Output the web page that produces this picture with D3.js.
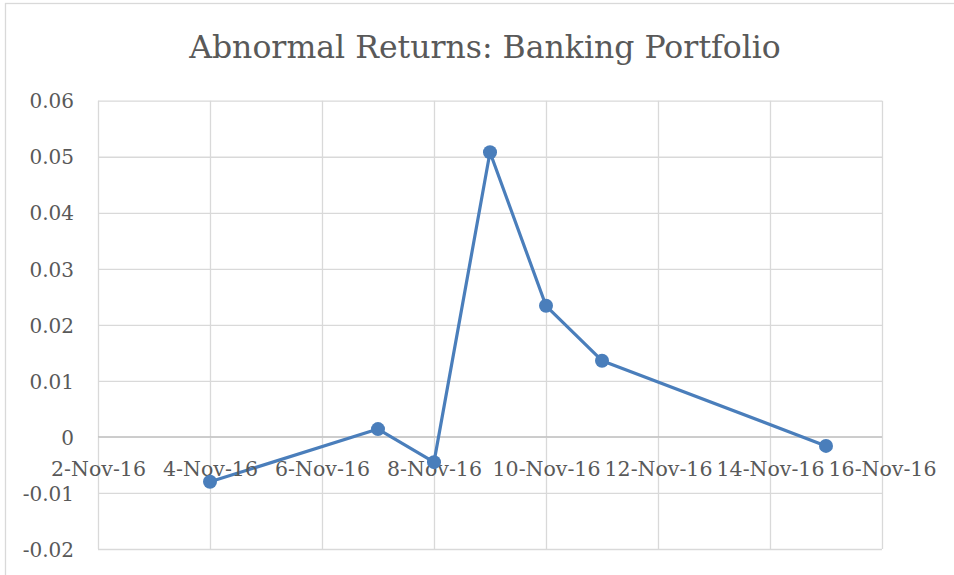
<!DOCTYPE html>
<html>
<head>
<meta charset="utf-8">
<script src="https://cdn.jsdelivr.net/npm/d3@7"></script>
<style>
  body { margin: 0; background: #ffffff; }
</style>
</head>
<body>
<div id="chart"></div>
<script>
'use strict';

// data
const dates = ['2016-11-04', '2016-11-07', '2016-11-08', '2016-11-09', '2016-11-10', '2016-11-11', '2016-11-15'];
const returns = [-0.0080, 0.0014, -0.0045, 0.0508, 0.0234, 0.0136, -0.0016];
const yTicks = [-0.02, -0.01, 0, 0.01, 0.02, 0.03, 0.04, 0.05, 0.06];
const xDomain = ['2016-11-02', '2016-11-16'];
const chartTitle = 'Abnormal Returns: Banking Portfolio';

const parseDate = d3.timeParse('%Y-%m-%d');

/** the dimensions of the whole svg and the plot area inside it */
const width = 954;
const height = 575;
const margin = { left: 98, right: 72, top: 100.7, bottom: 26 };
const plotWidth = width - margin.left - margin.right;
const plotHeight = height - margin.top - margin.bottom;

const textColor = '#595959';
const gridColor = '#d9d9d9';
const lineColor = '#4a7ebb';
const labelFont = '"DejaVu Serif", serif';

const svg = d3.select('#chart')
  .append('svg')
    .attr('width', width)
    .attr('height', height);

// chart border (runs off the right and bottom edge like the reference)
svg.append('rect')
  .attr('x', 5.5)
  .attr('y', 3.5)
  .attr('width', width + 20)
  .attr('height', height + 20)
  .attr('fill', 'none')
  .attr('stroke', gridColor)
  .attr('stroke-width', 1.3);

// title
svg.append('text')
  .attr('x', 485)
  .attr('y', 58)
  .attr('text-anchor', 'middle')
  .attr('font-family', labelFont)
  .attr('font-size', 31.5)
  .attr('fill', textColor)
  .text(chartTitle);

const g = svg.append('g')
  .attr('transform', `translate(${margin.left},${margin.top})`);

/** x scale, dates from 2-Nov to 16-Nov */
const x = d3.scaleTime()
  .domain(xDomain.map(parseDate))
  .range([0, plotWidth]);

/** y scale, -0.02 to 0.06 */
const y = d3.scaleLinear()
  .domain([d3.min(yTicks), d3.max(yTicks)])
  .range([plotHeight, 0]);

const xTicks = d3.timeDay.range(parseDate(xDomain[0]), d3.timeDay.offset(parseDate(xDomain[1]), 1), 2);

// horizontal gridlines
g.append('g')
  .call(d3.axisLeft(y).tickValues(yTicks).tickSize(-plotWidth).tickFormat(''))
  .call(ax => ax.select('.domain').remove())
  .call(ax => ax.selectAll('line')
    .attr('stroke', gridColor)
    .attr('stroke-width', 1.3));

// vertical gridlines
g.append('g')
  .attr('transform', `translate(0,${plotHeight})`)
  .call(d3.axisBottom(x).tickValues(xTicks).tickSize(-plotHeight).tickFormat(''))
  .call(ax => ax.select('.domain').remove())
  .call(ax => ax.selectAll('line')
    .attr('stroke', gridColor)
    .attr('stroke-width', 1.3));

// zero line drawn again on top of the vertical grid
g.append('line')
  .attr('x1', 0)
  .attr('x2', plotWidth)
  .attr('y1', y(0))
  .attr('y2', y(0))
  .attr('stroke', '#bfbfbf')
  .attr('stroke-width', 1.3);

// y axis labels
const formatY = d => d === 0 ? '0' : d3.format('.2f')(d).replace('−', '-');
g.append('g')
  .call(d3.axisLeft(y).tickValues(yTicks).tickSize(0).tickPadding(24).tickFormat(formatY))
  .call(ax => ax.select('.domain').remove())
  .call(ax => ax.selectAll('text')
    .attr('font-family', labelFont)
    .attr('font-size', 20)
    .attr('fill', textColor)
    .attr('dy', '0.36em'));

// line
const line = d3.line()
  .x((d, i) => x(parseDate(dates[i])))
  .y(d => y(d));

g.append('path')
  .datum(returns)
  .attr('d', line)
  .attr('fill', 'none')
  .attr('stroke', lineColor)
  .attr('stroke-width', 3.2)
  .attr('stroke-linejoin', 'round');

// x axis labels, sitting under the zero line
g.append('g')
  .attr('transform', `translate(0,${y(0)})`)
  .call(d3.axisBottom(x).tickValues(xTicks).tickSize(0).tickPadding(39).tickFormat(d3.timeFormat('%-d-%b-%y')))
  .call(ax => ax.select('.domain').remove())
  .call(ax => ax.selectAll('text')
    .attr('font-family', labelFont)
    .attr('font-size', 20.5)
    .attr('fill', textColor)
    .attr('dy', '0'));

// markers
g.selectAll('circle.marker')
  .data(returns)
  .join('circle')
    .attr('class', 'marker')
    .attr('cx', (d, i) => x(parseDate(dates[i])))
    .attr('cy', d => y(d))
    .attr('r', 7)
    .attr('fill', lineColor);
</script>
</body>
</html>
